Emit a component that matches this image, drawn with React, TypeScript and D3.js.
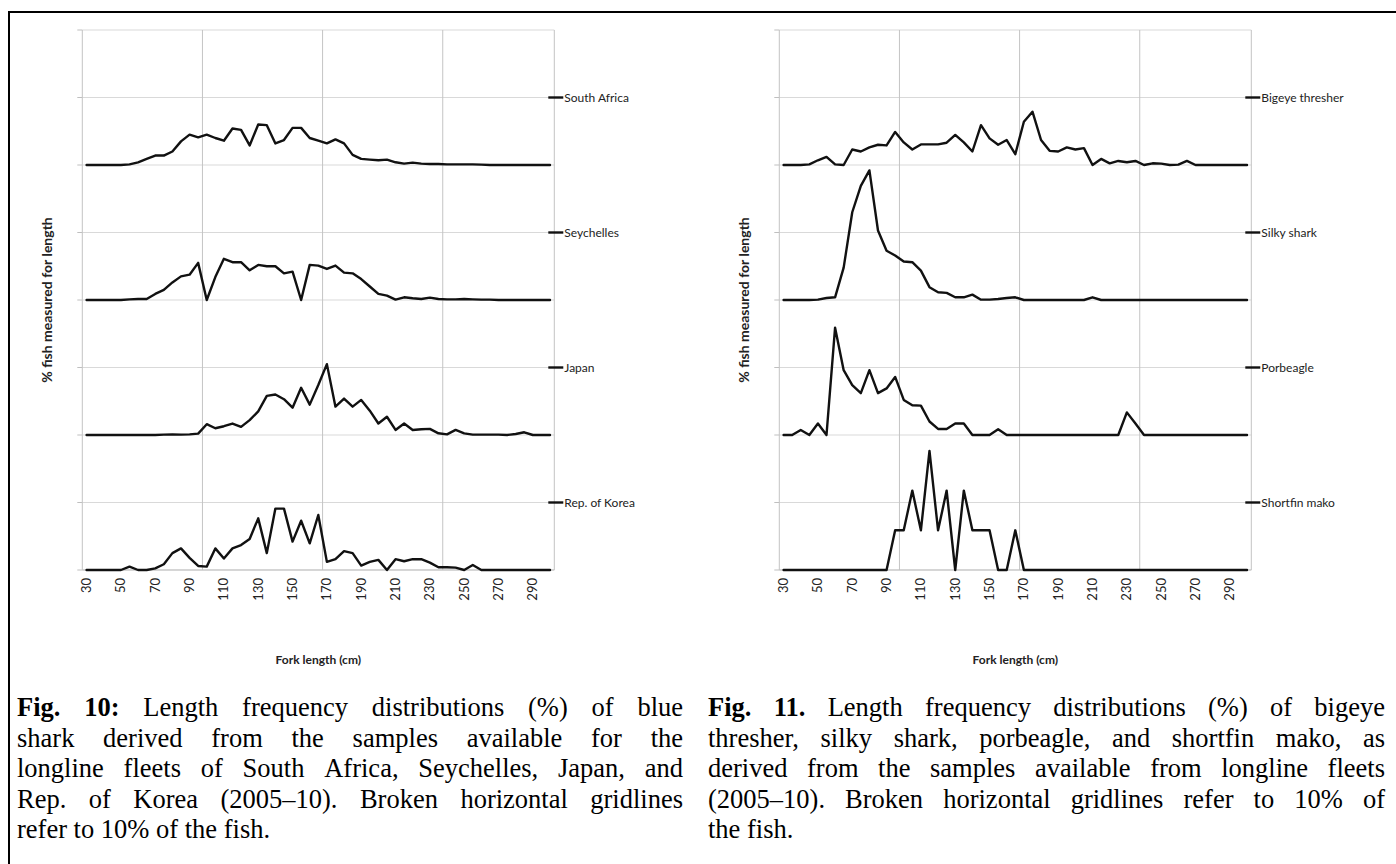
import React, { useMemo } from "react";
import * as d3 from "d3";

// ---------- data ----------
const forkLength = [
  30, 35, 40, 45, 50, 55, 60, 65, 70, 75, 80, 85, 90, 95, 100, 105, 110, 115, 120, 125,
  130, 135, 140, 145, 150, 155, 160, 165, 170, 175, 180, 185, 190, 195, 200, 205, 210, 215, 220, 225,
  230, 235, 240, 245, 250, 255, 260, 265, 270, 275, 280, 285, 290, 295, 300,
];
const tickLabels = [30, 50, 70, 90, 110, 130, 150, 170, 190, 210, 230, 250, 270, 290];
const verticalGridAt = [30, 100, 170, 240];
const gridLevels = [0, 10, 20, 30, 40, 50, 60, 70, 80];
const seriesOffsets = [60, 40, 20, 0];

const southAfrica = [
  0, 0, 0, 0, 0, 0.1, 0.4, 0.9, 1.4, 1.4, 2.0, 3.5, 4.5, 4.1, 4.5, 4.0, 3.6, 5.4, 5.2, 2.9,
  6.0, 5.9, 3.2, 3.7, 5.5, 5.5, 4.0, 3.6, 3.2, 3.8, 3.2, 1.5, 0.9, 0.8, 0.7, 0.8, 0.4, 0.2, 0.35, 0.2,
  0.15, 0.15, 0.1, 0.1, 0.1, 0.1, 0.05, 0, 0, 0, 0, 0, 0, 0, 0,
];
const seychelles = [
  0, 0, 0, 0, 0, 0.1, 0.15, 0.15, 0.9, 1.5, 2.6, 3.5, 3.75, 5.5, 0, 3.4, 6.1, 5.6, 5.6, 4.4,
  5.2, 5.0, 5.0, 3.95, 4.2, 0, 5.2, 5.1, 4.6, 5.1, 4.05, 3.95, 3.1, 2.0, 0.9, 0.65, 0.05, 0.4, 0.25, 0.15,
  0.35, 0.15, 0.1, 0.1, 0.15, 0.1, 0.05, 0.05, 0, 0, 0, 0, 0, 0, 0,
];
const japan = [
  0, 0, 0, 0, 0, 0, 0, 0, 0, 0.05, 0.1, 0.05, 0.1, 0.2, 1.6, 1.0, 1.3, 1.7, 1.2, 2.2,
  3.5, 5.8, 6.0, 5.3, 4.05, 7.0, 4.5, 7.4, 10.5, 4.2, 5.4, 4.2, 5.2, 3.6, 1.7, 2.7, 0.75, 1.7, 0.75, 0.85,
  0.9, 0.25, 0.1, 0.75, 0.25, 0.05, 0.05, 0.05, 0.05, 0, 0.15, 0.4, 0, 0, 0,
];
const korea = [
  0, 0, 0, 0, 0, 0.5, 0, 0, 0.25, 0.85, 2.5, 3.2, 1.8, 0.6, 0.5, 3.2, 1.7, 3.2, 3.7, 4.6,
  7.65, 2.5, 9.1, 9.1, 4.2, 7.3, 3.95, 8.15, 1.2, 1.6, 2.8, 2.5, 0.65, 1.2, 1.5, 0, 1.6, 1.3, 1.6, 1.6,
  1.1, 0.4, 0.4, 0.35, 0, 0.75, 0, 0, 0, 0, 0, 0, 0, 0, 0,
];
const bigeyeThresher = [
  0, 0, 0, 0.1, 0.7, 1.2, 0.1, 0, 2.3, 2.0, 2.6, 3.0, 2.9, 4.9, 3.35, 2.3, 3.05, 3.05, 3.05, 3.3,
  4.45, 3.35, 2.0, 5.9, 3.95, 3.0, 3.7, 1.6, 6.4, 7.9, 3.7, 2.1, 2.0, 2.6, 2.3, 2.5, 0, 0.9, 0.25, 0.6,
  0.4, 0.6, 0, 0.25, 0.2, 0, 0.05, 0.6, 0, 0, 0, 0, 0, 0, 0,
];
const silkyShark = [
  0, 0, 0, 0, 0.05, 0.3, 0.4, 4.8, 13.0, 16.9, 19.2, 10.3, 7.3, 6.6, 5.7, 5.6, 4.35, 1.9, 1.15, 1.05,
  0.4, 0.4, 0.8, 0.05, 0.05, 0.15, 0.3, 0.4, 0, 0, 0, 0, 0, 0, 0, 0, 0.4, 0, 0, 0,
  0, 0, 0, 0, 0, 0, 0, 0, 0, 0, 0, 0, 0, 0, 0,
];
const porbeagle = [
  0, 0, 0.75, 0, 1.7, 0, 15.9, 9.6, 7.4, 6.2, 9.6, 6.2, 6.9, 8.6, 5.2, 4.4, 4.35, 2.0, 0.9, 0.9,
  1.7, 1.7, 0, 0, 0, 0.85, 0, 0, 0, 0, 0, 0, 0, 0, 0, 0, 0, 0, 0, 0,
  3.35, 1.7, 0, 0, 0, 0, 0, 0, 0, 0, 0, 0, 0, 0, 0,
];
const shortfinMako = [
  0, 0, 0, 0, 0, 0, 0, 0, 0, 0, 0, 0, 0, 5.88, 5.88, 11.76, 5.88, 17.65, 5.88, 11.76,
  0, 11.76, 5.88, 5.88, 5.88, 0, 0, 5.88, 0, 0, 0, 0, 0, 0, 0, 0, 0, 0, 0, 0,
  0, 0, 0, 0, 0, 0, 0, 0, 0, 0, 0, 0, 0, 0, 0,
];

const leftNames = ["South Africa", "Seychelles", "Japan", "Rep. of Korea"];
const rightNames = ["Bigeye thresher", "Silky shark", "Porbeagle", "Shortfin mako"];

const yTitle = "% fish measured for length";
const xTitle = "Fork length (cm)";

const captionLeftBold = ["Fig.", "10:"];
const captionLeftLines = [
  "Length frequency distributions (%) of blue",
  "shark derived from the samples available for the",
  "longline fleets of South Africa, Seychelles, Japan, and",
  "Rep. of Korea (2005\u201310). Broken horizontal gridlines",
  "refer to 10% of the fish.",
];
const captionRightBold = ["Fig.", "11."];
const captionRightLines = [
  "Length frequency distributions (%) of bigeye",
  "thresher, silky shark, porbeagle, and shortfin mako, as",
  "derived from the samples available from longline fleets",
  "(2005\u201310). Broken horizontal gridlines refer to 10% of",
  "the fish.",
];

// ---------- layout ----------
const W = 1396;
const H = 864;
const PLOT_W = 472;
const Y_TOP = 30;
const Y_BOTTOM = 570;
const CHART_FONT = "Lato, 'Open Sans', 'DejaVu Sans', sans-serif";
const SERIF = "'Liberation Serif', 'Times New Roman', serif";
const CAP_SIZE = 26.5;

type Word = { t: string; b: boolean };

let _ctx: CanvasRenderingContext2D | null = null;
function measure(t: string, bold: boolean) {
  if (!_ctx) {
    const c = document.createElement("canvas");
    _ctx = c.getContext("2d");
  }
  const ctx = _ctx!;
  ctx.font = `${bold ? "bold " : ""}${CAP_SIZE}px 'Liberation Serif', 'Times New Roman', serif`;
  return ctx.measureText(t).width;
}

function Caption({ x, width, y0, lh, bold, lines }: { x: number; width: number; y0: number; lh: number; bold: string[]; lines: string[] }) {
  const laid = useMemo(() => {
    const out: { t: string; b: boolean; x: number; y: number }[] = [];
    const space = measure(" ", false);
    lines.forEach((ln, li) => {
      const words: Word[] = ln.split(" ").map((t) => ({ t, b: false }));
      const all: Word[] = li === 0 ? [...bold.map((t) => ({ t, b: true })), ...words] : words;
      const widths = all.map((w) => measure(w.t, w.b));
      const total = widths.reduce((a, b) => a + b, 0);
      const last = li === lines.length - 1;
      const gap = last || all.length < 2 ? space : (width - total) / (all.length - 1);
      let cx = x;
      all.forEach((w, i) => {
        out.push({ t: w.t, b: w.b, x: cx, y: y0 + li * lh });
        cx += widths[i] + gap;
      });
    });
    return out;
  }, [x, width, y0, lh, bold, lines]);
  return (
    <g fontFamily={SERIF} fontSize={CAP_SIZE} fill="#000">
      {laid.map((w, i) => (
        <text key={i} x={w.x} y={w.y} fontWeight={w.b ? "bold" : "normal"}>
          {w.t}
        </text>
      ))}
    </g>
  );
}

function Panel({ x0, names, series }: { x0: number; names: string[]; series: number[][] }) {
  const xBand = d3
    .scaleBand<number>()
    .domain(forkLength)
    .range([x0, x0 + PLOT_W])
    .paddingInner(0)
    .paddingOuter(0);
  const bw = xBand.bandwidth();
  const xc = (v: number) => (xBand(v) as number) + bw / 2;
  const y = d3.scaleLinear().domain([0, 80]).range([Y_BOTTOM, Y_TOP]);
  const right = x0 + PLOT_W;
  const vLines = [...verticalGridAt.map((v) => xBand(v) as number), right];

  return (
    <g>
      {gridLevels.map((g) => (
        <line key={"h" + g} x1={x0} x2={right} y1={y(g)} y2={y(g)} stroke="#d9d9d9" strokeWidth={1} />
      ))}
      {gridLevels.map((g) => (
        <line key={"t" + g} x1={x0 - 5} x2={x0} y1={y(g)} y2={y(g)} stroke="#bfbfbf" strokeWidth={1} />
      ))}
      {vLines.map((vx, i) => (
        <line key={"v" + i} x1={vx} x2={vx} y1={Y_TOP} y2={Y_BOTTOM} stroke="#c4c4c4" strokeWidth={1} />
      ))}
      <line x1={x0} x2={right} y1={Y_BOTTOM} y2={Y_BOTTOM} stroke="#bfbfbf" strokeWidth={1} />

      {series.map((vals, si) => {
        const off = seriesOffsets[si];
        const path = d3
          .line<number>()
          .x((_, i) => xc(forkLength[i]))
          .y((d) => y(d + off))(vals);
        return (
          <path
            key={"s" + si}
            d={path || ""}
            fill="none"
            stroke="#111"
            strokeWidth={2.4}
            strokeLinejoin="round"
            strokeLinecap="round"
          />
        );
      })}

      {names.map((n, si) => {
        const ly = y(seriesOffsets[si] + 10);
        return (
          <g key={"l" + si}>
            <line x1={right - 6} x2={right + 9} y1={ly} y2={ly} stroke="#111" strokeWidth={2.4} />
            <text x={right + 10} y={ly} dy="0.35em" fontFamily={CHART_FONT} fontSize={12} fill="#222">
              {n}
            </text>
          </g>
        );
      })}

      {tickLabels.map((t) => (
        <text
          key={"x" + t}
          transform={`translate(${xc(t)},${Y_BOTTOM + 8}) rotate(-90)`}
          textAnchor="end"
          dy="0.35em"
          fontFamily={CHART_FONT}
          fontSize={13}
          fill="#222"
        >
          {t}
        </text>
      ))}

      <text
        transform={`translate(${x0 - 35},${(Y_TOP + Y_BOTTOM) / 2}) rotate(-90)`}
        textAnchor="middle"
        dy="0.35em"
        fontFamily={CHART_FONT}
        fontSize={14}
        fontWeight="bold"
        fill="#222"
      >
        {yTitle}
      </text>
      <text
        x={x0 + PLOT_W / 2}
        y={664}
        textAnchor="middle"
        fontFamily={CHART_FONT}
        fontSize={12}
        fontWeight="bold"
        fill="#222"
      >
        {xTitle}
      </text>
    </g>
  );
}

export default function App() {
  return (
    <svg
      width={W}
      height={H}
      viewBox={`0 0 ${W} ${H}`}
      style={{ position: "absolute", left: 0, top: 0, background: "#fff" }}
    >
      <rect x={0} y={0} width={W} height={H} fill="#fff" />
      <line x1={8} x2={W} y1={12} y2={12} stroke="#000" strokeWidth={2} />
      <line x1={9} x2={9} y1={11} y2={H} stroke="#000" strokeWidth={2} />

      <Panel x0={82.3} names={leftNames} series={[southAfrica, seychelles, japan, korea]} />
      <Panel x0={779.3} names={rightNames} series={[bigeyeThresher, silkyShark, porbeagle, shortfinMako]} />

      <Caption x={17} width={666} y0={716} lh={30.5} bold={captionLeftBold} lines={captionLeftLines} />
      <Caption x={708} width={677} y0={716} lh={30.5} bold={captionRightBold} lines={captionRightLines} />
    </svg>
  );
}
